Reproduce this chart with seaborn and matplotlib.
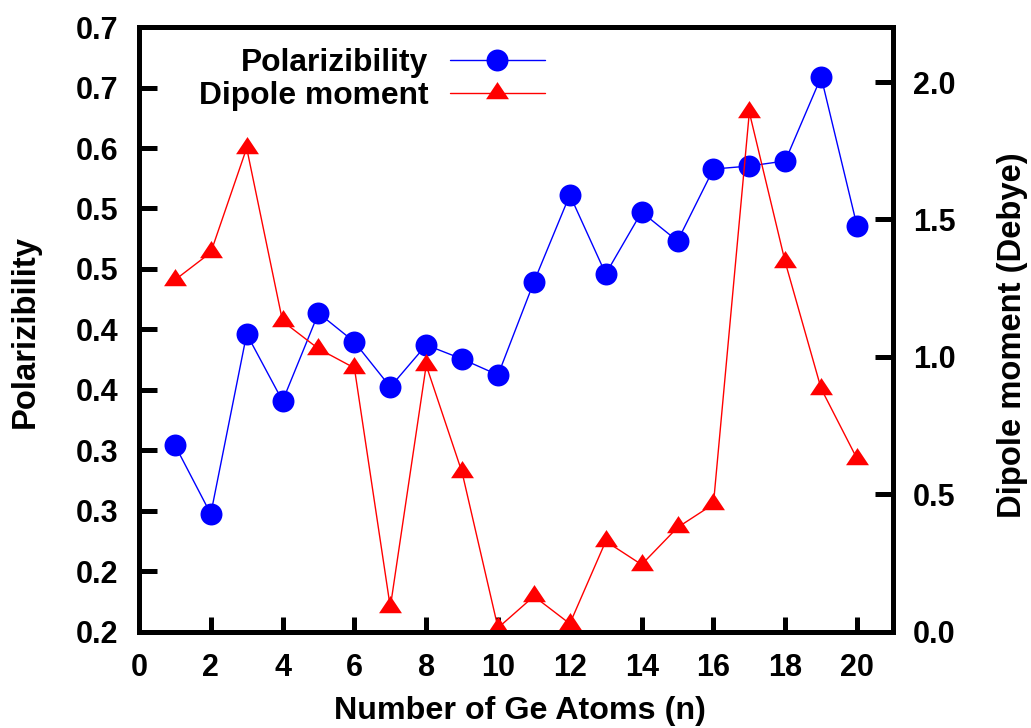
import numpy as np
import matplotlib
matplotlib.use("Agg")
import matplotlib.pyplot as plt
from matplotlib.path import Path
import seaborn as sns

# Cluster size (number of Ge atoms)
n_atoms = [1, 2, 3, 4, 5, 6, 7, 8, 9, 10, 11, 12, 13, 14, 15, 16, 17, 18, 19, 20]

# Polarizability per cluster (left axis)
polarizability = [0.3545, 0.2975, 0.4463, 0.3909, 0.4636, 0.4397, 0.4025, 0.4372,
                  0.4256, 0.4124, 0.4893, 0.5612, 0.4959, 0.5471, 0.5231, 0.5826,
                  0.5851, 0.5893, 0.6587, 0.5355]

# Dipole moment in Debye (right axis)
dipole = [1.28, 1.38, 1.76, 1.13, 1.03, 0.96, 0.09, 0.97, 0.58, 0.015,
          0.13, 0.03, 0.33, 0.245, 0.38, 0.465, 1.89, 1.345, 0.885, 0.63]

series_labels = ["Polarizibility", "Dipole moment"]

x_ticks = [0, 2, 4, 6, 8, 10, 12, 14, 16, 18, 20]
left_ticks = [0.2, 0.25, 0.3, 0.35, 0.4, 0.45, 0.5, 0.55, 0.6, 0.65, 0.7]
left_tick_labels = ["0.2", "0.2", "0.3", "0.3", "0.4", "0.4", "0.5", "0.5", "0.6", "0.7", "0.7"]
right_ticks = [0.0, 0.5, 1.0, 1.5, 2.0]
right_tick_labels = ["0.0", "0.5", "1.0", "1.5", "2.0"]

sns.set_theme(style="white")
plt.rcParams["font.family"] = ["Liberation Sans", "DejaVu Sans"]
plt.rcParams["font.weight"] = "bold"
plt.rcParams["text.color"] = "black"
plt.rcParams["axes.labelcolor"] = "black"
plt.rcParams["xtick.color"] = "black"
plt.rcParams["ytick.color"] = "black"

TICK_FS = 22.0
BLUE = "#0000ff"
RED = "#ff0000"

fig = plt.figure(figsize=(10.31, 7.28), dpi=100)
ax = fig.add_axes([0.1348, 0.1319, 0.7313, 0.8310])
ax2 = ax.twinx()

sns.lineplot(x=n_atoms, y=polarizability, ax=ax, color=BLUE, marker="o",
             markersize=15.8, markeredgewidth=0, markeredgecolor=BLUE,
             linewidth=1.0, legend=False)

tri = Path([(0, 4 / 3), (-4 / 3, -2 / 3), (4 / 3, -2 / 3), (0, 4 / 3)], closed=True)
sns.lineplot(x=n_atoms, y=dipole, ax=ax2, color=RED, marker=tri,
             markersize=16.5, markeredgewidth=0, markeredgecolor=RED,
             linewidth=1.0, legend=False)

ax.set_xlim(0, 21)
ax.set_ylim(0.2, 0.7)
ax2.set_ylim(0.0, 2.2)

ax.set_xticks(x_ticks)
ax.set_xticklabels([str(t) for t in x_ticks])
ax.set_yticks(left_ticks)
ax.set_yticklabels(left_tick_labels)
ax2.set_yticks(right_ticks)
ax2.set_yticklabels(right_tick_labels)

for a in (ax, ax2):
    for s in a.spines.values():
        s.set_linewidth(3.6)
        s.set_color("black")
    a.grid(False)

ax.tick_params(axis="x", direction="in", length=11, width=3.6, pad=15,
               labelsize=TICK_FS, bottom=True, top=False, colors="black")
ax.tick_params(axis="y", direction="in", length=13, width=3.6, pad=15,
               labelsize=TICK_FS, left=True, right=False, colors="black")
ax2.tick_params(axis="y", direction="in", length=13, width=3.6, pad=14.5,
                labelsize=TICK_FS, left=False, right=True, colors="black")
for lab in ax.get_xticklabels() + ax.get_yticklabels() + ax2.get_yticklabels():
    lab.set_fontweight("bold")

ax.set_xlabel("Number of Ge Atoms (n)", fontsize=23.2, fontweight="bold", color="black")
ax.xaxis.label.set_va("center")
ax.xaxis.set_label_coords(0.505, -0.1306)

ax.set_ylabel("Polarizibility", fontsize=23.6, fontweight="bold", color="black")
ax.yaxis.label.set_va("center")
ax.yaxis.label.set_rotation_mode("default")
ax.yaxis.set_label_coords(-0.1512, 0.4975)

ax2.set_ylabel("Dipole moment (Debye)", fontsize=23.6, fontweight="bold", color="black")
ax2.yaxis.label.set_va("center")
ax2.yaxis.label.set_rotation_mode("default")
ax2.yaxis.set_label_coords(1.159, 0.491)

handles = [ax.lines[0], ax2.lines[0]]
leg = ax2.legend(handles, series_labels, loc="upper right",
                 bbox_to_anchor=(545 / 1031, 1 - 48 / 728),
                 bbox_transform=fig.transFigure, frameon=False,
                 markerfirst=False, handlelength=3.0, handletextpad=0.66,
                 labelspacing=0.1, borderpad=0, borderaxespad=0,
                 prop={"size": 22.9, "weight": "bold"})
for t in leg.get_texts():
    t.set_ha("right")
    t.set_color("black")

fig.savefig("out.png", dpi=100, facecolor="white")
